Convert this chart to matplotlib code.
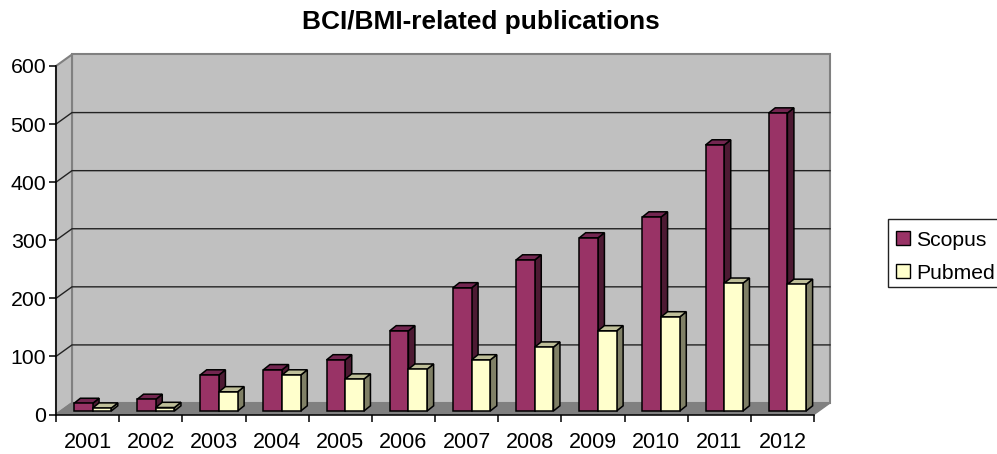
import matplotlib
matplotlib.use("Agg")
import matplotlib.pyplot as plt
from matplotlib.patches import Polygon, Patch, Rectangle

plt.rcParams['font.family'] = ['Liberation Sans', 'DejaVu Sans']

years = ['2001','2002','2003','2004','2005','2006','2007','2008','2009','2010','2011','2012']
scopus = [13, 20, 62, 71, 88, 138, 212, 260, 298, 334, 458, 513]
pubmed = [5, 6, 33, 62, 55, 72, 88, 110, 138, 162, 220, 218]
yticks = [0, 100, 200, 300, 400, 500, 600]
title = 'BCI/BMI-related publications'

W, H = 997, 454
fig = plt.figure(figsize=(W/100, H/100), dpi=100)
L, R, T, B = 56, 814, 66, 414.5
ax = fig.add_axes([L/W, 1-B/H, (R-L)/W, (B-T)/H])
ax.set_xlim(0, 12)
ax.set_ylim(0, 600)
ax.set_facecolor('none')

ux = (R-L)/12          # px per category
uy = (B-T)/600         # px per value
wall_dx, wall_dy = 16/ux, 11.5/uy
bar_dx, bar_dy = 5/ux, 3.5/uy
dep_dx, dep_dy = 6.5/ux, 5.2/uy
bw = 18.7/ux

def poly(pts, fc, ec, lw=1.0, z=1):
    ax.add_patch(Polygon(pts, closed=True, facecolor=fc, edgecolor=ec, linewidth=lw,
                         zorder=z, clip_on=False, joinstyle='miter'))

# walls and floor
poly([(wall_dx, wall_dy), (12+wall_dx, wall_dy), (12+wall_dx, 600+wall_dy), (wall_dx, 600+wall_dy)],
     '#c0c0c0', '#808080', 1.5, 1)
poly([(0, 0), (wall_dx, wall_dy), (wall_dx, 600+wall_dy), (0, 600)], '#c0c0c0', '#808080', 1.5, 1)
poly([(0, 0), (12, 0), (12+wall_dx, wall_dy), (wall_dx, wall_dy)], '#808080', '#808080', 1.0, 1.1)

# gridlines on the back and side walls
for v in yticks[1:-1]:
    ax.plot([0, wall_dx, 12+wall_dx], [v, v+wall_dy, v+wall_dy], color='#222222', lw=1.0,
            zorder=1.5, clip_on=False, solid_joinstyle='miter')

def bar3d(x0, v, front, top, side, z):
    x = x0 + bar_dx
    x1 = x + bw
    b = bar_dy
    t = v + bar_dy
    poly([(x1, b), (x1+dep_dx, b+dep_dy), (x1+dep_dx, t+dep_dy), (x1, t)], side, 'black', 1.1, z)
    poly([(x, t), (x1, t), (x1+dep_dx, t+dep_dy), (x+dep_dx, t+dep_dy)], top, 'black', 1.1, z)
    poly([(x, b), (x1, b), (x1, t), (x, t)], front, 'black', 1.1, z)

start = (1 - 2*bw)/2
for i in range(len(years)):
    bar3d(i + start, scopus[i], '#993366', '#732650', '#4d1a33', 2 + i*0.01)
    bar3d(i + start + bw, pubmed[i], '#ffffcc', '#bfbf99', '#808066', 2.005 + i*0.01)

# axes
for s in ('top', 'right'):
    ax.spines[s].set_visible(False)
for s in ('left', 'bottom'):
    ax.spines[s].set_linewidth(1.1)
    ax.spines[s].set_zorder(3)
ax.set_yticks(yticks)
ax.set_yticklabels([str(v) for v in yticks])
ax.set_xticks(range(13))
ax.set_xticklabels([])
ax.set_xticks([i+0.5 for i in range(12)], minor=True)
ax.set_xticklabels(years, minor=True)
ax.tick_params(axis='x', which='minor', length=0, pad=12.5, labelsize=15.5)
ax.tick_params(axis='x', which='major', length=5, width=1.1, direction='out')
ax.tick_params(axis='y', length=5, width=1.1, pad=2, labelsize=15.3)

fig.text(481/W, 1-22/H, title, ha='center', va='center', fontsize=18.9, fontweight='bold')

# legend frame runs off the right edge of the picture, as in the original
fig.add_artist(Rectangle((888/W, 1-287/H), 120/W, 68/H, transform=fig.transFigure,
                         facecolor='white', edgecolor='#222222', linewidth=1.0, clip_on=False))
handles = [Patch(facecolor='#993366', edgecolor='black', label='Scopus'),
           Patch(facecolor='#ffffcc', edgecolor='black', label='Pubmed')]
leg = fig.legend(handles=handles, loc='upper left', bbox_to_anchor=(888/W, 1-223/H),
                 fontsize=15.2, frameon=False,
                 borderaxespad=0, handlelength=0.66, handleheight=0.66, handletextpad=0.33,
                 labelspacing=0.67, borderpad=0.36)

fig.savefig('out.png', dpi=100)
